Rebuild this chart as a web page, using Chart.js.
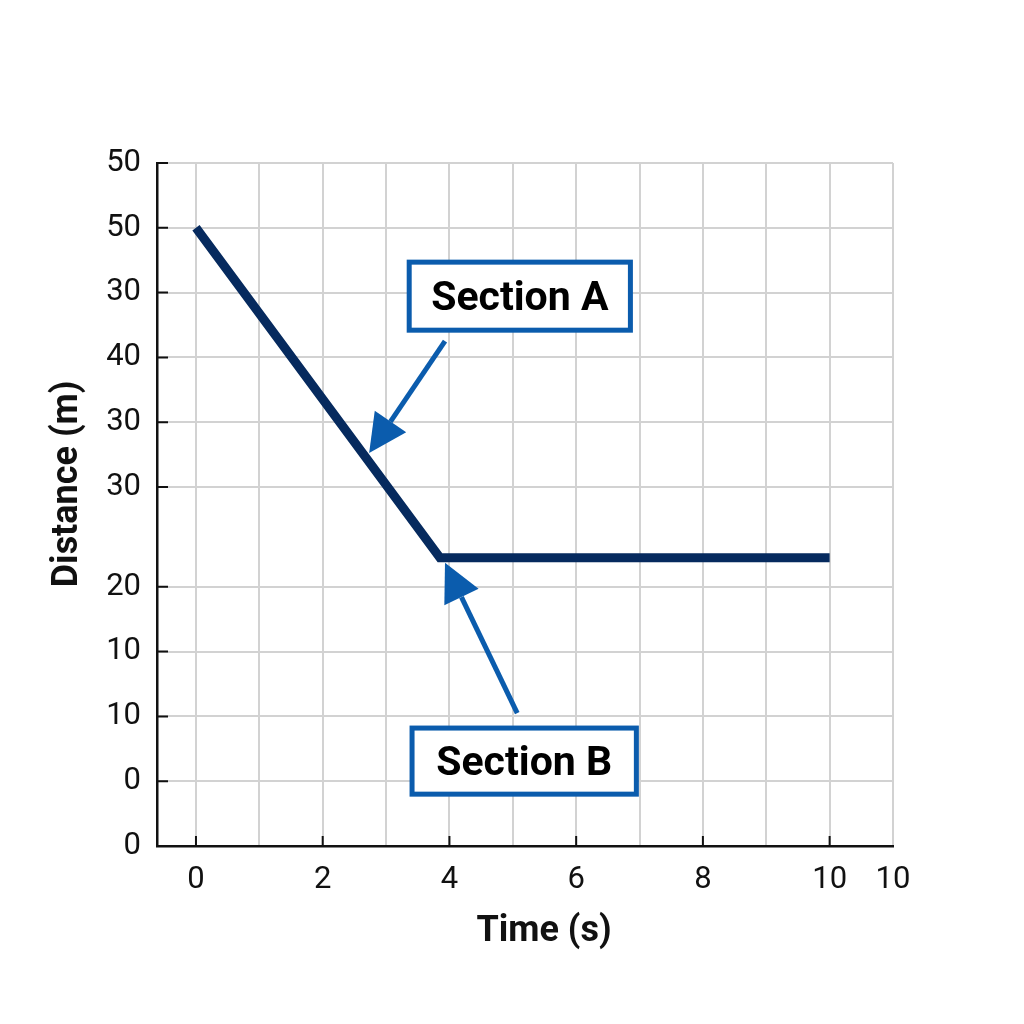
<!DOCTYPE html>
<html>
<head>
<meta charset="utf-8">
<script src="https://cdn.jsdelivr.net/npm/chart.js@4.4.1/dist/chart.umd.min.js"></script>
<style>
  html, body { margin: 0; padding: 0; background: #fff; }
  #distanceChart { display: block; }
</style>
</head>
<body>
<canvas id="distanceChart" width="1024" height="1024"></canvas>
<script>
// Line points: time (s) and distance (axis units)
const timeValues = [0, 3.85, 10];
const distanceValues = [9.54, 4.45, 4.45];

// Axis tick positions and the labels printed at them
const xTickValues = [0, 1, 2, 3, 4, 5, 6, 7, 8, 9, 10, 11];
const xTickLabels = ["0", "", "2", "", "4", "", "6", "", "8", "", "10", "10"];
const yTickValues = [0, 1, 2, 3, 4, 5.54, 6.54, 7.54, 8.54, 9.54, 10.54];
const yTickLabels = ["0", "0", "10", "10", "20", "30", "30", "40", "30", "50", "50"];

const calloutLabels = ["Section A", "Section B"];

const FONT = "Roboto, 'Noto Sans', sans-serif";
const INK = "#111";
const CALLOUT_BLUE = "#0b5cad";

// callout geometry in axis units: box [x1, y1, x2, y2], arrow from -> to
const calloutGeometry = [
  { box: [3.365, 9.01, 6.856, 7.96], from: [3.93, 7.79], to: [2.733, 6.065] },
  { box: [3.41, 1.82, 6.95, 0.8], from: [5.07, 2.05], to: [3.93, 4.37] },
];

const decorPlugin = {
  id: "decor",
  afterDraw(chart) {
    const { ctx, chartArea, scales } = chart;
    const xs = scales.x, ys = scales.y;
    ctx.save();

    // small inward tick marks on both axes
    ctx.strokeStyle = INK;
    ctx.lineWidth = 2;
    ctx.beginPath();
    yTickValues.forEach((v, i) => {
      if (i === 0) return;
      const py = ys.getPixelForValue(v);
      ctx.moveTo(chartArea.left, py);
      ctx.lineTo(chartArea.left + 11, py);
    });
    xTickValues.forEach((v, i) => {
      if (!xTickLabels[i] || i === xTickValues.length - 1) return;
      const px = xs.getPixelForValue(v);
      ctx.moveTo(px, chartArea.bottom);
      ctx.lineTo(px, chartArea.bottom - 10);
    });
    ctx.stroke();

    // axis titles
    ctx.fillStyle = INK;
    ctx.font = "bold 36px " + FONT;
    ctx.textAlign = "center";
    ctx.textBaseline = "middle";
    ctx.fillText("Time (s)", 544, 932);
    ctx.save();
    ctx.translate(68, 484);
    ctx.rotate(-Math.PI / 2);
    ctx.fillText("Distance (m)", 0, 0);
    ctx.restore();

    // callouts
    calloutGeometry.forEach((c, i) => {
      const x1 = xs.getPixelForValue(c.box[0]);
      const y1 = ys.getPixelForValue(c.box[1]);
      const x2 = xs.getPixelForValue(c.box[2]);
      const y2 = ys.getPixelForValue(c.box[3]);
      ctx.fillStyle = "#fff";
      ctx.fillRect(x1, y1, x2 - x1, y2 - y1);
      ctx.strokeStyle = CALLOUT_BLUE;
      ctx.lineWidth = 5;
      ctx.strokeRect(x1, y1, x2 - x1, y2 - y1);
      ctx.fillStyle = "#000";
      ctx.font = "bold 41px " + FONT;
      ctx.fillText(calloutLabels[i], (x1 + x2) / 2, (y1 + y2) / 2 + 4);

      // arrow
      const fx = xs.getPixelForValue(c.from[0]), fy = ys.getPixelForValue(c.from[1]);
      const tx = xs.getPixelForValue(c.to[0]), ty = ys.getPixelForValue(c.to[1]);
      const ang = Math.atan2(ty - fy, tx - fx);
      const headLen = 38, headHalf = 19;
      const bx = tx - headLen * Math.cos(ang), by = ty - headLen * Math.sin(ang);
      ctx.strokeStyle = CALLOUT_BLUE;
      ctx.lineWidth = 5;
      ctx.beginPath();
      ctx.moveTo(fx, fy);
      ctx.lineTo(bx, by);
      ctx.stroke();
      ctx.fillStyle = CALLOUT_BLUE;
      ctx.beginPath();
      ctx.moveTo(tx, ty);
      ctx.lineTo(bx + headHalf * Math.sin(ang), by - headHalf * Math.cos(ang));
      ctx.lineTo(bx - headHalf * Math.sin(ang), by + headHalf * Math.cos(ang));
      ctx.closePath();
      ctx.fill();
    });

    ctx.restore();
  },
};

const ctx = document.getElementById("distanceChart").getContext("2d");
new Chart(ctx, {
  type: "line",
  data: {
    datasets: [
      {
        label: "Distance",
        data: timeValues.map((t, i) => ({ x: t, y: distanceValues[i] })),
        borderColor: "#062a5e",
        borderWidth: 9,
        borderJoinStyle: "miter",
        borderCapStyle: "butt",
        pointRadius: 0,
        tension: 0,
        fill: false,
      },
    ],
  },
  options: {
    responsive: false,
    animation: false,
    layout: {
      padding: { top: 163, right: 131, left: 0, bottom: 0 },
    },
    plugins: {
      legend: { display: false },
      tooltip: { enabled: false },
    },
    scales: {
      x: {
        type: "linear",
        min: -0.615,
        max: 11,
        afterBuildTicks: (s) => {
          s.ticks = xTickValues.map((v) => ({ value: v }));
        },
        afterFit: (s) => {
          s.height = 178;
        },
        ticks: {
          callback: (v, i) => xTickLabels[i],
          autoSkip: false,
          maxRotation: 0,
          padding: 16,
          color: INK,
          font: { family: FONT, size: 31 },
        },
        grid: { color: "#d2d2d2", lineWidth: 2, drawTicks: false },
        border: { color: INK, width: 2.5 },
      },
      y: {
        type: "linear",
        min: 0,
        max: 10.54,
        afterBuildTicks: (s) => {
          s.ticks = yTickValues.map((v) => ({ value: v }));
        },
        afterFit: (s) => {
          s.width = 157;
        },
        ticks: {
          callback: (v, i) => yTickLabels[i],
          autoSkip: false,
          padding: 16,
          color: INK,
          font: { family: FONT, size: 31 },
        },
        grid: { color: "#d2d2d2", lineWidth: 2, drawTicks: false },
        border: { color: INK, width: 2.5 },
      },
    },
  },
  plugins: [decorPlugin],
});
</script>
</body>
</html>
